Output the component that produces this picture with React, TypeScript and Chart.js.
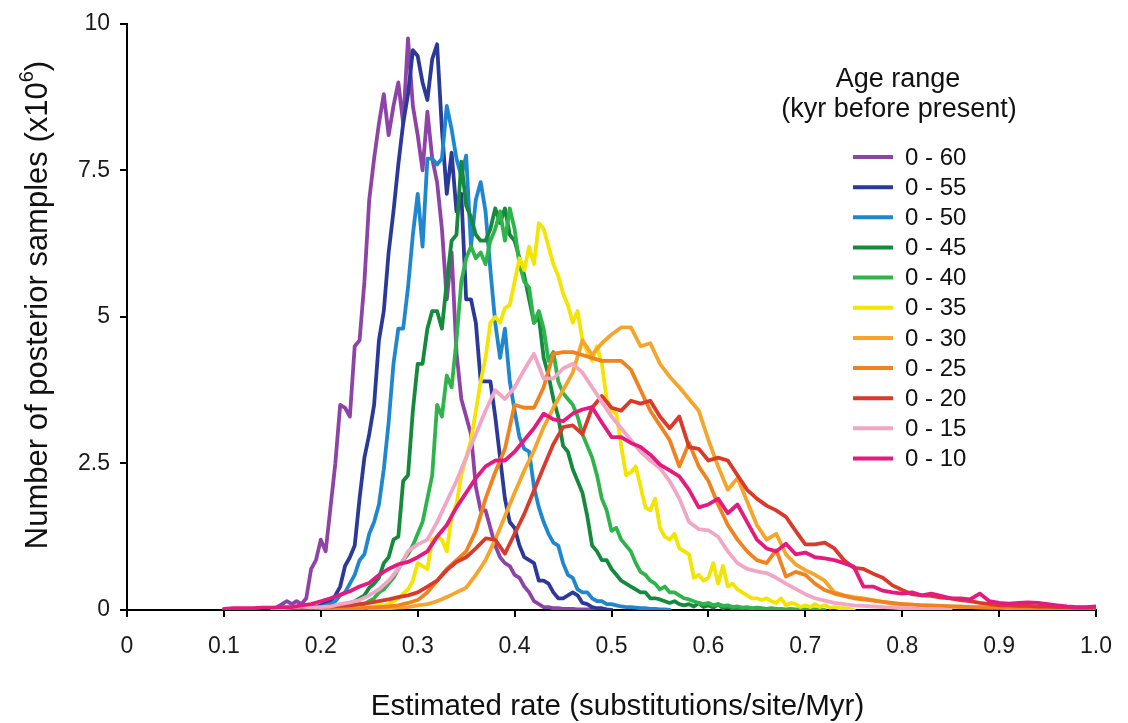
import React, { useEffect, useRef } from "react";
import { Chart, registerables } from "chart.js";

Chart.register(...registerables);

const FONT = '"Liberation Sans", Arial, Helvetica, sans-serif';

const X_TITLE = "Estimated rate (substitutions/site/Myr)";
const Y_TITLE_MAIN = "Number of posterior samples (x10";
const Y_TITLE_SUP = "6";
const Y_TITLE_END = ")";
const LEGEND_TITLE = ["Age range", "(kyr before present)"];

const X_TICKS = [0, 0.1, 0.2, 0.3, 0.4, 0.5, 0.6, 0.7, 0.8, 0.9, 1.0];
const Y_TICKS = [0, 2.5, 5, 7.5, 10];

const SERIES_LABELS = ["0 - 60", "0 - 55", "0 - 50", "0 - 45", "0 - 40", "0 - 35", "0 - 30", "0 - 25", "0 - 20", "0 - 15", "0 - 10"];
const SERIES_COLORS = ["#8e44a6", "#2b3a98", "#1f87cf", "#168a3c", "#2fb44b", "#f3e500", "#f5a52a", "#f0821f", "#d93a2a", "#f2a6c6", "#e6197f"];
// first rate value of each series and spacing between histogram bins
const SERIES_START = [0.15, 0.18, 0.195, 0.2, 0.21, 0.23, 0.25, 0.2, 0.15, 0.15, 0.1];
const SERIES_STEP = [0.005, 0.005, 0.005, 0.005, 0.005, 0.005, 0.01, 0.01, 0.01, 0.01, 0.01];

const AGE_0_60 = [0, 0.05, 0.1, 0.15, 0.1, 0.15, 0.1, 0.2, 0.7, 0.85, 1.2, 1.0, 1.75, 2.5, 3.5, 3.45, 3.3, 4.5, 4.6, 5.6, 7.0, 7.7, 8.3, 8.8, 8.1, 8.6, 9.0, 8.3, 9.75, 8.6, 8.1, 7.5, 8.5, 7.7, 7.3, 6.5, 5.3, 6.1, 4.4, 3.6, 3.3, 3.0, 2.1, 1.7, 1.7, 1.4, 1.1, 0.9, 0.8, 0.75, 0.6, 0.55, 0.4, 0.3, 0.15, 0.1, 0.05, 0.05, 0.03, 0.03, 0.02, 0.02, 0.02, 0.01, 0.01, 0.01, 0.01, 0.01, 0, 0, 0];
const AGE_0_55 = [0.02, 0.03, 0.05, 0.05, 0.08, 0.12, 0.15, 0.25, 0.4, 0.75, 0.9, 1.1, 1.9, 2.6, 3.0, 3.5, 4.6, 5.1, 6.1, 6.8, 7.6, 8.3, 8.8, 9.55, 9.45, 9.0, 8.7, 9.4, 9.65, 8.2, 7.1, 7.8, 6.8, 7.1, 5.3, 5.3, 4.9, 3.9, 3.9, 3.9, 3.3, 2.6, 1.9, 1.5, 1.4, 1.1, 0.9, 0.85, 0.8, 0.5, 0.5, 0.45, 0.3, 0.2, 0.2, 0.25, 0.3, 0.25, 0.12, 0.1, 0.05, 0.03, 0.03, 0.01, 0];
const AGE_0_50 = [0.02, 0.05, 0.08, 0.1, 0.15, 0.25, 0.3, 0.45, 0.6, 0.85, 0.95, 1.3, 1.5, 1.8, 2.4, 3.2, 4.2, 4.8, 4.8, 5.5, 6.4, 7.1, 6.2, 7.7, 7.7, 7.6, 7.7, 8.6, 8.2, 7.7, 7.4, 7.75, 6.2, 7.0, 7.3, 6.8, 5.8, 4.9, 4.3, 4.8, 3.9, 3.4, 2.95, 2.75, 2.7, 2.1, 1.75, 1.5, 1.3, 1.15, 1.1, 0.8, 0.6, 0.55, 0.35, 0.3, 0.3, 0.2, 0.15, 0.15, 0.1, 0.1, 0.08, 0.06, 0.05, 0.05, 0.04, 0.03, 0.03, 0.02, 0.02, 0.01, 0.01, 0];
const AGE_0_45 = [0.02, 0.03, 0.05, 0.06, 0.08, 0.1, 0.12, 0.15, 0.2, 0.25, 0.38, 0.45, 0.55, 0.8, 0.9, 1.2, 1.25, 2.2, 2.3, 3.4, 4.2, 4.2, 4.8, 5.1, 5.1, 4.8, 5.6, 6.3, 6.4, 7.65, 6.9, 6.7, 6.4, 6.3, 6.3, 6.5, 6.85, 6.6, 6.85, 6.4, 6.3, 6.0, 5.7, 5.3, 4.9, 5.0, 4.3, 4.0, 3.6, 3.3, 2.8, 2.7, 2.4, 2.2, 2.0, 1.6, 1.1, 1.0, 0.85, 0.85, 0.7, 0.6, 0.5, 0.45, 0.4, 0.35, 0.3, 0.3, 0.2, 0.2, 0.18, 0.15, 0.12, 0.15, 0.1, 0.08, 0.1, 0.06, 0.12, 0.05, 0.08, 0.04, 0.1, 0.03, 0.05, 0.02, 0.03, 0.02, 0.02, 0.01, 0.01, 0, 0];
const AGE_0_40 = [0.02, 0.03, 0.04, 0.05, 0.06, 0.08, 0.1, 0.1, 0.15, 0.2, 0.3, 0.35, 0.45, 0.55, 0.7, 0.85, 0.95, 1.1, 1.3, 1.5, 1.9, 2.3, 3.5, 3.3, 4.0, 3.8, 4.6, 5.6, 6.0, 6.2, 6.0, 6.1, 5.9, 6.3, 6.5, 6.8, 6.3, 6.85, 6.5, 5.9, 5.6, 5.5, 4.9, 5.1, 4.8, 4.25, 4.4, 3.9, 3.7, 3.6, 3.5, 3.3, 3.0, 2.8, 2.6, 2.3, 1.9, 1.7, 1.35, 1.4, 1.2, 1.1, 1.0, 0.8, 0.65, 0.6, 0.5, 0.45, 0.35, 0.4, 0.3, 0.3, 0.25, 0.2, 0.18, 0.15, 0.12, 0.1, 0.12, 0.08, 0.1, 0.07, 0.08, 0.05, 0.06, 0.04, 0.05, 0.03, 0.04, 0.03, 0.02, 0.03, 0.02, 0.02, 0.01, 0.02, 0.01, 0.01, 0.01, 0.01, 0.01, 0, 0];
const AGE_0_35 = [0.02, 0.03, 0.03, 0.04, 0.05, 0.06, 0.07, 0.08, 0.1, 0.15, 0.2, 0.28, 0.35, 0.5, 0.8, 0.75, 0.7, 1.2, 1.25, 1.2, 1.0, 1.6, 1.8, 2.3, 2.6, 2.9, 3.4, 3.9, 4.3, 4.9, 5.0, 4.9, 5.15, 5.2, 5.6, 6.0, 5.8, 6.2, 5.9, 6.6, 6.5, 6.2, 5.9, 5.7, 5.4, 5.2, 4.9, 5.1, 4.6, 4.4, 4.25, 4.5, 4.2, 3.6, 3.4, 3.35, 2.8, 2.3, 2.35, 2.45, 2.1, 1.75, 1.7, 1.9, 1.4, 1.25, 1.2, 1.3, 1.05, 1.0, 0.95, 0.55, 0.6, 0.5, 0.55, 0.8, 0.45, 0.75, 0.4, 0.45, 0.35, 0.3, 0.25, 0.2, 0.2, 0.17, 0.2, 0.15, 0.12, 0.2, 0.08, 0.12, 0.1, 0.05, 0.08, 0.05, 0.1, 0.05, 0.08, 0.04, 0.05, 0.03, 0.03, 0.02, 0];
const AGE_0_30 = [0.01, 0.02, 0.03, 0.04, 0.05, 0.08, 0.1, 0.15, 0.22, 0.3, 0.38, 0.6, 0.85, 1.2, 1.6, 2.0, 2.38, 2.72, 3.12, 3.45, 3.75, 4.05, 4.6, 4.35, 4.55, 4.7, 4.82, 4.82, 4.5, 4.55, 4.2, 3.98, 3.8, 3.6, 3.4, 2.9, 2.45, 2.05, 2.25, 1.85, 1.45, 1.2, 1.3, 0.95, 0.78, 0.68, 0.6, 0.5, 0.3, 0.25, 0.22, 0.2, 0.17, 0.14, 0.11, 0.1, 0.09, 0.08, 0.07, 0.06, 0.06, 0.05, 0.05, 0.04, 0.04, 0.04, 0.03, 0.03, 0.03, 0.03, 0.03, 0.03, 0.03, 0.03, 0.03, 0.03];
const AGE_0_25 = [0.01, 0.01, 0.02, 0.02, 0.03, 0.04, 0.05, 0.06, 0.08, 0.12, 0.17, 0.3, 0.5, 0.7, 0.85, 1.0, 1.35, 1.9, 2.35, 2.75, 3.5, 3.45, 3.45, 3.8, 4.37, 4.4, 4.4, 4.35, 4.3, 4.25, 4.25, 4.25, 4.1, 3.75, 3.4, 3.15, 2.9, 2.45, 2.85, 2.45, 2.2, 1.8, 1.45, 1.2, 1.0, 0.85, 0.8, 1.02, 0.57, 0.65, 0.6, 0.45, 0.34, 0.28, 0.24, 0.2, 0.18, 0.16, 0.14, 0.12, 0.1, 0.09, 0.08, 0.08, 0.07, 0.06, 0.06, 0.05, 0.05, 0.04, 0.04, 0.04, 0.03, 0.03, 0.03, 0.03, 0.03, 0.03, 0.02, 0.02, 0.02];
const AGE_0_20 = [0.01, 0.02, 0.02, 0.03, 0.04, 0.05, 0.06, 0.07, 0.08, 0.1, 0.12, 0.15, 0.18, 0.22, 0.25, 0.3, 0.4, 0.5, 0.68, 0.82, 0.9, 1.05, 1.22, 1.2, 0.96, 1.3, 1.64, 2.04, 2.44, 2.83, 3.12, 3.15, 3.0, 3.45, 3.65, 3.45, 3.4, 3.57, 3.52, 3.57, 3.3, 3.1, 3.3, 2.78, 2.75, 2.55, 2.6, 2.55, 2.3, 2.05, 1.9, 1.78, 1.7, 1.59, 1.35, 1.12, 1.12, 1.15, 1.05, 0.85, 0.72, 0.7, 0.62, 0.55, 0.42, 0.34, 0.27, 0.25, 0.24, 0.21, 0.2, 0.17, 0.15, 0.12, 0.1, 0.08, 0.08, 0.07, 0.07, 0.06, 0.06, 0.05, 0.05, 0.04, 0.04, 0.04];
const AGE_0_15 = [0.02, 0.03, 0.05, 0.06, 0.04, 0.05, 0.06, 0.1, 0.13, 0.17, 0.25, 0.35, 0.5, 0.7, 1.0, 1.12, 1.2, 1.5, 1.85, 2.2, 2.6, 3.0, 3.4, 3.75, 3.6, 3.8, 4.1, 4.37, 3.95, 3.95, 4.12, 4.2, 4.05, 3.8, 3.55, 3.3, 3.1, 2.9, 2.7, 2.55, 2.42, 2.2, 1.9, 1.5, 1.38, 1.36, 1.25, 1.0, 0.8, 0.7, 0.66, 0.63, 0.55, 0.45, 0.36, 0.27, 0.2, 0.16, 0.12, 0.1, 0.08, 0.07, 0.06, 0.05, 0.04, 0.03, 0.03, 0.02, 0.02, 0.01, 0];
const AGE_0_10 = [0.02, 0.03, 0.03, 0.03, 0.04, 0.04, 0.05, 0.05, 0.08, 0.1, 0.15, 0.2, 0.26, 0.32, 0.4, 0.46, 0.6, 0.7, 0.78, 0.82, 0.9, 1.0, 1.25, 1.45, 1.75, 2.0, 2.25, 2.45, 2.55, 2.55, 2.7, 2.9, 3.1, 3.35, 3.25, 3.22, 3.35, 3.42, 3.46, 3.2, 2.95, 2.95, 2.85, 2.78, 2.65, 2.48, 2.38, 2.28, 2.05, 1.75, 1.8, 1.9, 1.65, 1.8, 1.5, 1.2, 1.05, 1.0, 1.13, 0.95, 0.98, 0.9, 0.88, 0.85, 0.8, 0.74, 0.4, 0.4, 0.33, 0.3, 0.28, 0.3, 0.25, 0.28, 0.24, 0.2, 0.2, 0.18, 0.28, 0.15, 0.12, 0.11, 0.12, 0.13, 0.12, 0.1, 0.08, 0.06, 0.05, 0.05, 0.06];

const SERIES_VALUES = [AGE_0_60, AGE_0_55, AGE_0_50, AGE_0_45, AGE_0_40, AGE_0_35, AGE_0_30, AGE_0_25, AGE_0_20, AGE_0_15, AGE_0_10];

function buildDatasets() {
  return SERIES_VALUES.map((vals, i) => ({
    label: SERIES_LABELS[i],
    data: vals.map((y, k) => ({ x: Math.round((SERIES_START[i] + k * SERIES_STEP[i]) * 1000) / 1000, y })),
    borderColor: SERIES_COLORS[i],
    backgroundColor: SERIES_COLORS[i],
    borderWidth: 3.8,
    pointRadius: 0,
    tension: 0,
    fill: false,
    borderJoinStyle: "round" as const,
    order: SERIES_VALUES.length - i,
  }));
}

const overlayPlugin = {
  id: "overlayText",
  afterDraw(chart: any) {
    const ctx: CanvasRenderingContext2D = chart.ctx;
    const area = chart.chartArea;
    ctx.save();
    ctx.fillStyle = "#111";
    ctx.textBaseline = "middle";

    // x-axis title
    ctx.font = `29.5px ${FONT}`;
    ctx.textAlign = "center";
    ctx.fillText(X_TITLE, (area.left + area.right) / 2 + 6, 707);

    // y-axis title with superscript
    ctx.save();
    ctx.translate(38, 305);
    ctx.rotate(-Math.PI / 2);
    const big = `31px ${FONT}`;
    const small = `20px ${FONT}`;
    ctx.font = big;
    const wMain = ctx.measureText(Y_TITLE_MAIN).width;
    ctx.font = small;
    const wSup = ctx.measureText(Y_TITLE_SUP).width;
    ctx.font = big;
    const wEnd = ctx.measureText(Y_TITLE_END).width;
    const total = wMain + wSup + wEnd;
    let xs = -total / 2;
    ctx.textAlign = "left";
    ctx.fillText(Y_TITLE_MAIN, xs, 0);
    xs += wMain;
    ctx.font = small;
    ctx.fillText(Y_TITLE_SUP, xs, -11);
    xs += wSup;
    ctx.font = big;
    ctx.fillText(Y_TITLE_END, xs, 0);
    ctx.restore();

    // legend
    ctx.font = `27px ${FONT}`;
    ctx.textAlign = "center";
    ctx.fillText(LEGEND_TITLE[0], 898, 80);
    ctx.fillText(LEGEND_TITLE[1], 899, 110);
    ctx.textAlign = "left";
    const y0 = 157;
    const dy = 30.15;
    chart.data.datasets.forEach((ds: any, i: number) => {
      const y = y0 + i * dy;
      ctx.strokeStyle = ds.borderColor;
      ctx.lineWidth = 4;
      ctx.beginPath();
      ctx.moveTo(853, y);
      ctx.lineTo(893, y);
      ctx.stroke();
      ctx.fillStyle = "#111";
      ctx.font = `24px ${FONT}`;
      ctx.fillText(ds.label, 905, y + 1);
    });
    ctx.restore();
  },
};

export default function App() {
  const canvasRef = useRef<HTMLCanvasElement | null>(null);

  useEffect(() => {
    document.body.style.margin = "0";
    const canvas = canvasRef.current;
    if (!canvas) return;
    const chart = new Chart(canvas, {
      type: "line",
      data: { datasets: buildDatasets() as any },
      options: {
        animation: false,
        responsive: false,
        maintainAspectRatio: false,
        layout: { padding: { left: 0, right: 25, top: 22, bottom: 0 } },
        plugins: {
          legend: { display: false },
          tooltip: { enabled: false },
          title: { display: false },
        },
        elements: { line: { borderCapStyle: "round" } },
        scales: {
          x: {
            type: "linear",
            min: 0,
            max: 1,
            afterBuildTicks: (scale: any) => {
              scale.ticks = X_TICKS.map((v) => ({ value: v }));
            },
            afterFit: (scale: any) => {
              scale.height = 113;
            },
            ticks: {
              autoSkip: false,
              maxRotation: 0,
              padding: 16,
              color: "#1a1a1a",
              font: { family: FONT, size: 23 },
              callback: (v: any) => (Number(v) === 0 ? "0" : Number(v).toFixed(1)),
            },
            grid: {
              drawOnChartArea: false,
              drawTicks: true,
              tickLength: 7,
              color: "#000",
              lineWidth: 2,
            },
            border: { display: true, color: "#000", width: 2 },
          },
          y: {
            type: "linear",
            min: 0,
            max: 10,
            afterBuildTicks: (scale: any) => {
              scale.ticks = Y_TICKS.map((v) => ({ value: v }));
            },
            afterFit: (scale: any) => {
              scale.width = 127;
            },
            ticks: {
              autoSkip: false,
              padding: 10,
              color: "#1a1a1a",
              font: { family: FONT, size: 23 },
              callback: (v: any) => String(v),
            },
            grid: {
              drawOnChartArea: false,
              drawTicks: true,
              tickLength: 7,
              color: "#000",
              lineWidth: 2,
            },
            border: { display: true, color: "#000", width: 2 },
          },
        },
      },
      plugins: [overlayPlugin],
    });
    return () => chart.destroy();
  }, []);

  return (
    <div style={{ width: 1128, height: 723, background: "#fff" }}>
      <canvas ref={canvasRef} width={1128} height={723} style={{ width: 1128, height: 723, display: "block" }} />
    </div>
  );
}
